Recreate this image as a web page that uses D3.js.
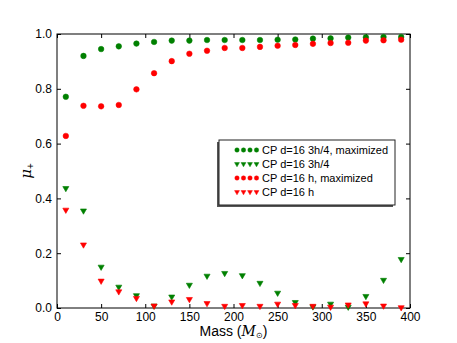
<!DOCTYPE html>
<html>
<head>
<meta charset="utf-8">
<script src="https://cdnjs.cloudflare.com/ajax/libs/d3/7.8.5/d3.min.js"></script>
<style>
  body { margin: 0; background: #fff; }
  svg { font-family: "Liberation Sans", Arial, sans-serif; }
</style>
</head>
<body>
<script>
var masses = [10, 30, 50, 70, 90, 110, 130, 150, 170, 190, 210, 230, 250, 270, 290, 310, 330, 350, 370, 390]

// CP d=16 3h/4, maximized
var green3h4Max = [0.771, 0.920, 0.945, 0.955, 0.965, 0.971, 0.976, 0.976, 0.978, 0.978,
                   0.978, 0.978, 0.979, 0.980, 0.983, 0.984, 0.987, 0.988, 0.989, 0.989]
// CP d=16 3h/4
var green3h4 = [0.437, 0.355, 0.150, 0.077, 0.046, 0.008, 0.041, 0.084, 0.117, 0.127,
                0.119, 0.091, 0.055, 0.021, 0.005, 0.015, 0.004, 0.043, 0.102, 0.178]
// CP d=16 h, maximized
var redHMax = [0.628, 0.738, 0.736, 0.741, 0.798, 0.857, 0.901, 0.928, 0.939, 0.949,
               0.949, 0.953, 0.957, 0.960, 0.964, 0.967, 0.968, 0.976, 0.977, 0.979]
// CP d=16 h
var redH = [0.358, 0.231, 0.099, 0.060, 0.036, 0.008, 0.023, 0.032, 0.017, 0.007,
            0.010, 0.007, 0.015, 0.010, 0.007, 0.004, 0.012, 0.016, 0.008, 0.002]

var xTicks = [0, 50, 100, 150, 200, 250, 300, 350, 400]
var yTicks = [0.0, 0.2, 0.4, 0.6, 0.8, 1.0]

var series = [
  { name: "CP d=16 3h/4, maximized", values: green3h4Max, color: "#008000", shape: "circle" },
  { name: "CP d=16 3h/4",            values: green3h4,    color: "#008000", shape: "tri" },
  { name: "CP d=16 h, maximized",    values: redHMax,     color: "#ff0000", shape: "circle" },
  { name: "CP d=16 h",               values: redH,        color: "#ff0000", shape: "tri" }
]

var w = 457
var h = 343
var plotL = 57, plotR = 410, plotT = 34, plotB = 308

var svg = d3.select("body").append("svg")
  .attr("width", w)
  .attr("height", h)

var x = d3.scaleLinear().domain([0, 400]).range([plotL, plotR])
var y = d3.scaleLinear().domain([0, 1]).range([plotB, plotT])

// inward ticks on all four sides
var tickLen = 4
svg.append("g")
  .attr("transform", "translate(0," + plotB + ")")
  .call(d3.axisBottom(x).tickValues(xTicks).tickSizeInner(-tickLen).tickSizeOuter(0).tickPadding(4)
    .tickFormat(d3.format("d")))
svg.append("g")
  .attr("transform", "translate(0," + plotT + ")")
  .call(d3.axisTop(x).tickValues(xTicks).tickSizeInner(-tickLen).tickSizeOuter(0).tickFormat(""))
svg.append("g")
  .attr("transform", "translate(" + plotL + ",0)")
  .call(d3.axisLeft(y).tickValues(yTicks).tickSizeInner(-tickLen).tickSizeOuter(0).tickPadding(5)
    .tickFormat(d3.format(".1f")))
svg.append("g")
  .attr("transform", "translate(" + plotR + ",0)")
  .call(d3.axisRight(y).tickValues(yTicks).tickSizeInner(-tickLen).tickSizeOuter(0).tickFormat(""))

svg.selectAll(".domain").remove()
svg.selectAll(".tick line").attr("stroke", "#000")
svg.selectAll(".tick text").attr("font-size", 12).attr("fill", "#000")
  .attr("font-family", "Liberation Sans, Arial, sans-serif")

svg.append("rect")
  .attr("x", plotL).attr("y", plotT)
  .attr("width", plotR - plotL).attr("height", plotB - plotT)
  .attr("fill", "none").attr("stroke", "#000").attr("stroke-width", 1)

var tri = d3.symbol().type(d3.symbolTriangle).size(16)

function drawMarker(sel, shape, color) {
  if (shape == "circle") {
    sel.append("circle").attr("r", 2.8).attr("fill", color).attr("stroke", color).attr("stroke-width", 0.5)
  } else {
    sel.append("path").attr("d", tri).attr("transform", "rotate(180)")
      .attr("fill", color).attr("stroke", color).attr("stroke-width", 0.6)
  }
}

series.forEach(function (s) {
  svg.append("g").selectAll("g")
    .data(s.values)
    .enter()
    .append("g")
    .attr("transform", function (d, i) { return "translate(" + x(masses[i]) + "," + y(d) + ")" })
    .each(function () { drawMarker(d3.select(this), s.shape, s.color) })
})

// legend
var lx = 219, ly = 140, lw = 176, lh = 65
svg.append("rect")
  .attr("x", lx - 2).attr("y", ly + 2).attr("width", lw).attr("height", lh)
  .attr("fill", "#555")
svg.append("rect")
  .attr("x", lx).attr("y", ly).attr("width", lw).attr("height", lh)
  .attr("fill", "#fff").attr("stroke", "#222").attr("stroke-width", 1)

series.forEach(function (s, k) {
  var ry = 150 + k * 14
  for (var j = 0; j < 4; ++j) {
    var g = svg.append("g").attr("transform", "translate(" + (237 + j * 6.5) + "," + ry + ") scale(0.8)")
    drawMarker(g, s.shape, s.color)
  }
  svg.append("text")
    .attr("x", 262).attr("y", ry).attr("dy", "0.35em")
    .attr("font-size", 11).attr("fill", "#000")
    .text(s.name)
})

// axis labels
var xl = svg.append("text")
  .attr("x", (plotL + plotR) / 2).attr("y", 336)
  .attr("text-anchor", "middle").attr("font-size", 14)
xl.append("tspan").text("Mass (")
xl.append("tspan").attr("font-style", "italic").attr("font-family", "DejaVu Serif, serif").text("M")
xl.append("tspan").attr("font-size", 8).attr("dy", 2).text("\u2299")
xl.append("tspan").attr("dy", -2).text(")")

var yl = svg.append("text")
  .attr("transform", "translate(31," + ((plotT + plotB) / 2) + ") rotate(-90)")
  .attr("text-anchor", "middle").attr("font-size", 15)
yl.append("tspan").attr("font-style", "italic").attr("font-family", "DejaVu Serif, serif").text("\u03bc")
yl.append("tspan").attr("font-size", 10).attr("dy", 3).text("+")
</script>
</body>
</html>
